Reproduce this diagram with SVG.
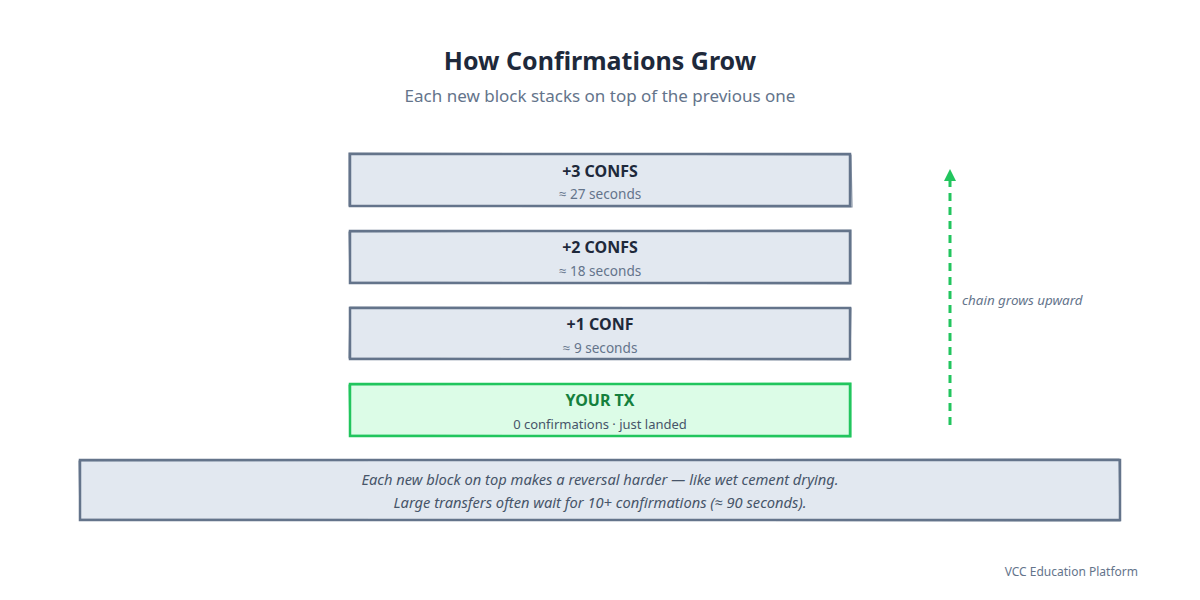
<svg xmlns="http://www.w3.org/2000/svg" width="1200" height="600" viewBox="0 0 1200 600">
<style>
text{font-family:"Noto Sans","Open Sans","DejaVu Sans",sans-serif}
.title{font-size:25px;font-weight:700;fill:#1e293b;text-anchor:middle}
.sub{font-size:17px;fill:#64748b;text-anchor:middle}
.box{fill:#e2e8f0;stroke:#64748b;stroke-width:2.5}
.sk{fill:none;stroke:#64748b;stroke-width:1.2;opacity:0.8}
.bt{font-size:16px;font-weight:700;fill:#1e293b;text-anchor:middle}
.bs{font-size:13.6px;fill:#64748b;text-anchor:middle}
.gbox{fill:#dcfce7;stroke:#22c55e;stroke-width:2.5}
.gsk{fill:none;stroke:#22c55e;stroke-width:1.2;opacity:0.8}
.gt{font-size:16px;font-weight:700;fill:#15803d;text-anchor:middle}
.note{font-size:14.7px;font-style:italic;fill:#475569;text-anchor:middle}
.lbl{font-size:13.4px;font-style:italic;fill:#64748b}
.foot{font-size:12px;fill:#64748b;text-anchor:end}
</style>
<defs>
<marker id="ah" viewBox="0 0 10 10" refX="5" refY="5" markerWidth="4" markerHeight="4" orient="auto-start-reverse">
<path d="M0,0 L10,5 L0,10 z" fill="#22c55e"/>
</marker>
</defs>
<text class="title" x="600" y="70">How Confirmations Grow</text>
<text class="sub" x="600" y="102">Each new block stacks on top of the previous one</text>

<g id="block3">
<rect class="box" x="350" y="154" width="500" height="52"/>
<path class="sk" d="M349,153 L851,155 L852,207 L349,206 Z"/>
<text class="bt" x="600" y="177">+3 CONFS</text>
<text class="bs" x="600" y="199">≈ 27 seconds</text>
</g>
<g id="block2">
<rect class="box" x="350" y="231" width="500" height="52"/>
<path class="sk" d="M349,232 L851,230 L851,284 L350,282 Z"/>
<text class="bt" x="600" y="253">+2 CONFS</text>
<text class="bs" x="600" y="276">≈ 18 seconds</text>
</g>
<g id="block1">
<rect class="box" x="350" y="308" width="500" height="51"/>
<path class="sk" d="M350,307 L851,308 L850,360 L349,358 Z"/>
<text class="bt" x="600" y="330">+1 CONF</text>
<text class="bs" x="600" y="353">≈ 9 seconds</text>
</g>
<g id="yourtx">
<rect class="gbox" x="350" y="384" width="500" height="52"/>
<path class="gsk" d="M349,385 L851,383 L851,437 L350,435 Z"/>
<text class="gt" x="600" y="406">YOUR TX</text>
<text class="bs" x="600" y="429" style="fill:#475569;font-size:13px">0 confirmations · just landed</text>
</g>
<g id="note">
<rect class="box" x="80" y="460" width="1040" height="60"/>
<path class="sk" d="M79,461 L1119,459 L1120,521 L80,519 Z"/>
<text class="note" x="600" y="485">Each new block on top makes a reversal harder — like wet cement drying.</text>
<text class="note" x="600" y="508">Large transfers often wait for 10+ confirmations (≈ 90 seconds).</text>
</g>
<g id="connectors">
<line x1="950" y1="425" x2="950" y2="175" stroke="#22c55e" stroke-width="3" stroke-dasharray="8,6" marker-end="url(#ah)"/>
</g>
<text class="lbl" x="962" y="305">chain grows upward</text>
<text class="foot" x="1138" y="576">VCC Education Platform</text>
</svg>
